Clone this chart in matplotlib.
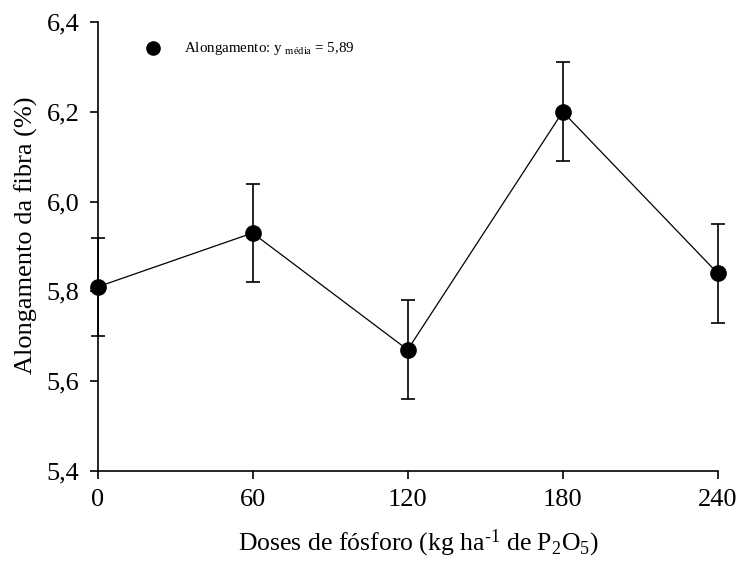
import numpy as np
import matplotlib.pyplot as plt

plt.rcParams["font.family"] = ["Liberation Serif", "DejaVu Serif"]
plt.rcParams["mathtext.fontset"] = "custom"
plt.rcParams["mathtext.rm"] = "Liberation Serif"
plt.rcParams["mathtext.it"] = "Liberation Serif:italic"

# data
doses = [0, 60, 120, 180, 240]
alongamento = [5.81, 5.93, 5.67, 6.20, 5.84]
erro = [0.11, 0.11, 0.11, 0.11, 0.11]
y_ticks = [5.4, 5.6, 5.8, 6.0, 6.2, 6.4]
media = 5.89

fig = plt.figure(figsize=(7.37, 5.63), dpi=100)
ax = fig.add_axes([0.1323, 0.1634, 0.8417, 0.7976])

ax.errorbar(doses, alongamento, yerr=erro, color="black", linewidth=0.9,
            elinewidth=1.2, capsize=5, capthick=1.2,
            marker="o", markersize=11, markerfacecolor="black",
            markeredgecolor="black", clip_on=False, zorder=3)

ax.set_xlim(0, 240)
ax.set_ylim(5.4, 6.4)
ax.set_xticks(doses)
ax.set_xticklabels([str(d) for d in doses])
ax.set_yticks(y_ticks)
ax.set_yticklabels([f"{v:.1f}".replace(".", ",") for v in y_ticks])

for side in ["top", "right"]:
    ax.spines[side].set_visible(False)
for side in ["left", "bottom"]:
    ax.spines[side].set_linewidth(1.2)
ax.tick_params(direction="out", length=6, width=1.2, labelsize=19, pad=7)

ax.set_ylabel("Alongamento da fibra (%)", fontsize=19, labelpad=6)
ax.set_xlabel(r"Doses de fósforo (kg ha$^{\text{-1}}$ de P$_{\mathregular{2}}$O$_{\mathregular{5}}$)",
              fontsize=18.5, labelpad=12)
ax.xaxis.label.set_x(0.518)
ax.yaxis.label.set_y(0.525)

# legend-like annotation
ax.plot([0.09], [0.941], "o", color="black", markersize=9.5,
        transform=ax.transAxes, clip_on=False)
ax.text(0.14, 0.941,
        r"Alongamento: y $_{\mathregular{média}}$ = " + f"{media:.2f}".replace(".", ","),
        transform=ax.transAxes, fontsize=10.8, va="center", ha="left")

fig.savefig("out.png", dpi=100)
